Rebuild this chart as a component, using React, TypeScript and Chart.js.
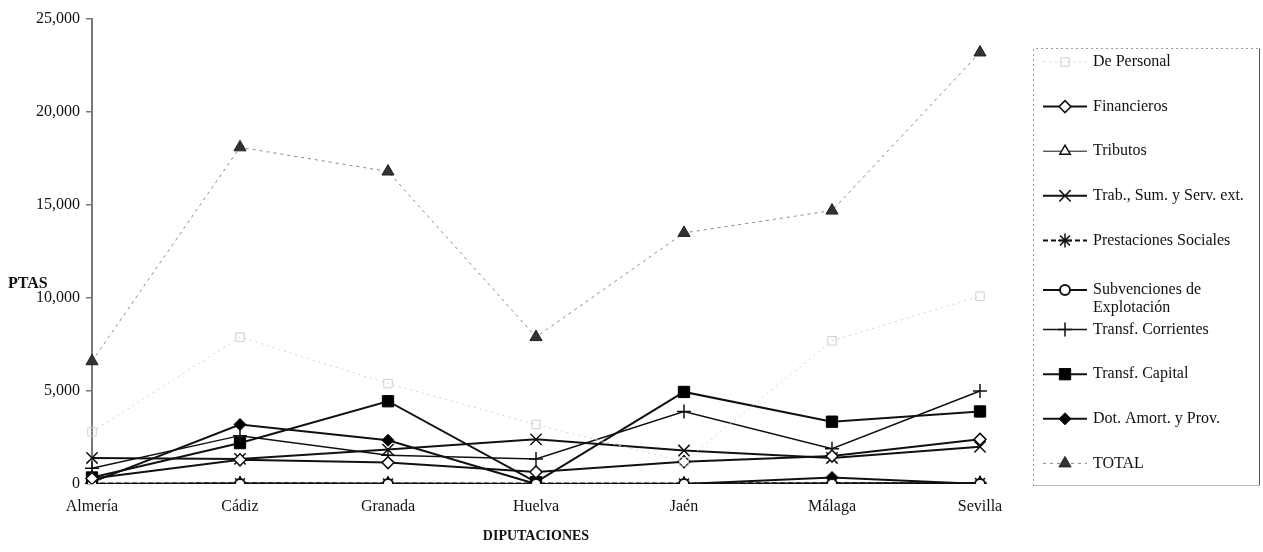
import React, { useEffect, useRef } from 'react';
import { Chart, registerables } from 'chart.js';
import { drawPoint } from 'chart.js/helpers';

Chart.register(...registerables);

const CATEGORIES = ['Almería', 'Cádiz', 'Granada', 'Huelva', 'Jaén', 'Málaga', 'Sevilla'];

const DE_PERSONAL = [2800, 7900, 5400, 3200, 1200, 7700, 10100];
const FINANCIEROS = [300, 1300, 1150, 650, 1200, 1500, 2400];
const TRIBUTOS = [30, 60, 50, 30, 40, 60, 80];
const TRAB_SUM_SERV = [1400, 1350, 1850, 2400, 1800, 1400, 2000];
const PRESTACIONES = [20, 40, 30, 20, 30, 40, 50];
const SUBVENCIONES = [0, 0, 0, 0, 0, 0, 0];
const TRANSF_CORRIENTES = [850, 2600, 1550, 1350, 3900, 1900, 5000];
const TRANSF_CAPITAL = [350, 2200, 4450, 100, 4950, 3350, 3900];
const DOT_AMORT = [100, 3200, 2350, 0, 0, 350, 0];
const TOTAL = [6600, 18100, 16800, 7900, 13500, 14700, 23200];

const Y_MIN = 0;
const Y_MAX = 25000;
const Y_STEP = 5000;
const X_TITLE = 'DIPUTACIONES';
const Y_TITLE = 'PTAS';

const FONT = '"Liberation Serif", "Times New Roman", serif';

const overlayPlugin = {
  id: 'overlay',
  afterDraw(chart: any) {
    const ctx = chart.ctx;
    const area = chart.chartArea;
    const yScale = chart.scales.y;
    ctx.save();

    // Y title (horizontal)
    ctx.font = `bold 16px ${FONT}`;
    ctx.fillStyle = '#111';
    ctx.textAlign = 'left';
    ctx.textBaseline = 'middle';
    ctx.fillText(Y_TITLE, area.left - 84, yScale.getPixelForValue(10000) - 14);

    // Legend box
    const left = area.right + 53;
    const top = area.top + 29;
    const right = chart.width - 3;
    const bottom = area.bottom + 2;
    ctx.lineWidth = 1;
    ctx.strokeStyle = '#9a9a9a';
    ctx.setLineDash([2, 3]);
    ctx.beginPath();
    ctx.moveTo(left + 0.5, bottom);
    ctx.lineTo(left + 0.5, top + 0.5);
    ctx.lineTo(right - 0.5, top + 0.5);
    ctx.stroke();
    ctx.setLineDash([]);
    ctx.strokeStyle = '#555';
    ctx.beginPath();
    ctx.moveTo(right - 0.5, top + 0.5);
    ctx.lineTo(right - 0.5, bottom - 0.5);
    ctx.stroke();
    ctx.strokeStyle = '#bbb';
    ctx.beginPath();
    ctx.moveTo(right - 0.5, bottom - 0.5);
    ctx.lineTo(left + 0.5, bottom - 0.5);
    ctx.stroke();

    const textX = left + 60;
    const maxW = right - textX - 4;
    ctx.font = `16px ${FONT}`;
    chart.data.datasets.forEach((ds: any, i: number) => {
      const yc = top + 14 + i * 44.6;
      const words = String(ds.label).split(' ');
      const lines: string[] = [];
      let cur = '';
      words.forEach((w) => {
        const t = cur ? cur + ' ' + w : w;
        if (ctx.measureText(t).width > maxW && cur) {
          lines.push(cur);
          cur = w;
        } else cur = t;
      });
      if (cur) lines.push(cur);
      const y0 = lines.length > 1 ? yc + 5 : yc;
      ctx.save();
      ctx.strokeStyle = ds.borderColor;
      ctx.lineWidth = ds.borderWidth;
      ctx.setLineDash(ds.borderDash || []);
      ctx.beginPath();
      ctx.moveTo(left + 10, y0);
      ctx.lineTo(left + 54, y0);
      ctx.stroke();
      ctx.setLineDash([]);
      ctx.fillStyle = ds.pointBackgroundColor;
      ctx.strokeStyle = ds.pointBorderColor;
      ctx.lineWidth = ds.pointBorderWidth;
      drawPoint(ctx, { pointStyle: ds.pointStyle, rotation: 0, radius: ds.pointRadius, borderWidth: ds.pointBorderWidth }, left + 32, y0);
      ctx.restore();
      ctx.fillStyle = '#111';
      ctx.textAlign = 'left';
      ctx.textBaseline = 'middle';
      lines.forEach((ln, k) => ctx.fillText(ln, textX, y0 + k * 18));
    });
    ctx.restore();
  },
};

function series(label: string, data: number[], s: any) {
  return {
    label,
    data,
    tension: 0,
    fill: false,
    pointHoverRadius: s.pointRadius,
    ...s,
  };
}

export default function App() {
  const ref = useRef<HTMLCanvasElement>(null);
  useEffect(() => {
    if (!ref.current) return;
    const chart = new Chart(ref.current, {
      type: 'line',
      data: {
        labels: CATEGORIES,
        datasets: [
          series('De Personal', DE_PERSONAL, { borderColor: '#d2d2d2', borderWidth: 1, borderDash: [2, 4], pointStyle: 'rect', pointRadius: 6, pointBorderWidth: 1, pointBackgroundColor: 'rgba(255,255,255,0)', pointBorderColor: '#cfcfcf' }),
          series('Financieros', FINANCIEROS, { borderColor: '#111', borderWidth: 2, pointStyle: 'rectRot', pointRadius: 6, pointBorderWidth: 1.5, pointBackgroundColor: '#fff', pointBorderColor: '#111' }),
          series('Tributos', TRIBUTOS, { borderColor: '#111', borderWidth: 1, pointStyle: 'triangle', pointRadius: 6, pointBorderWidth: 1.5, pointBackgroundColor: '#fff', pointBorderColor: '#111', order: 20 }),
          series('Trab., Sum. y Serv. ext.', TRAB_SUM_SERV, { borderColor: '#111', borderWidth: 2, pointStyle: 'crossRot', pointRadius: 8, pointBorderWidth: 1.5, pointBackgroundColor: '#111', pointBorderColor: '#111' }),
          series('Prestaciones Sociales', PRESTACIONES, { borderColor: '#111', borderWidth: 2, borderDash: [5, 3], pointStyle: 'star', pointRadius: 7, pointBorderWidth: 1.5, pointBackgroundColor: '#111', pointBorderColor: '#111', order: 20 }),
          series('Subvenciones de Explotación', SUBVENCIONES, { borderColor: '#111', borderWidth: 2, pointStyle: 'circle', pointRadius: 5, pointBorderWidth: 2, pointBackgroundColor: '#fff', pointBorderColor: '#111' }),
          series('Transf. Corrientes', TRANSF_CORRIENTES, { borderColor: '#111', borderWidth: 1.5, pointStyle: 'cross', pointRadius: 7, pointBorderWidth: 1.5, pointBackgroundColor: '#111', pointBorderColor: '#111' }),
          series('Transf. Capital', TRANSF_CAPITAL, { borderColor: '#111', borderWidth: 2, pointStyle: 'rect', pointRadius: 8, pointBorderWidth: 1, pointBackgroundColor: '#000', pointBorderColor: '#000' }),
          series('Dot. Amort. y Prov.', DOT_AMORT, { borderColor: '#111', borderWidth: 2, pointStyle: 'rectRot', pointRadius: 6, pointBorderWidth: 1, pointBackgroundColor: '#000', pointBorderColor: '#000' }),
          series('TOTAL', TOTAL, { borderColor: '#8a8a8a', borderWidth: 1, borderDash: [3, 4], pointStyle: 'triangle', pointRadius: 7, pointBorderWidth: 1, pointBackgroundColor: '#333', pointBorderColor: '#222' }),
        ],
      },
      options: {
        responsive: false,
        animation: false,
        events: [],
        layout: { padding: { left: 0, top: 19, right: 283, bottom: 0 } },
        plugins: { legend: { display: false }, tooltip: { enabled: false }, title: { display: false } },
        scales: {
          x: {
            type: 'category',
            offset: false,
            grid: { display: false, drawTicks: false },
            border: { display: false },
            ticks: { color: '#111', font: { family: FONT, size: 16 }, padding: 13, maxRotation: 0, autoSkip: false },
            title: { display: true, text: X_TITLE, color: '#111', font: { family: FONT, size: 14, weight: 'bold' }, padding: { top: 0, bottom: 7 } },
            afterFit: (s: any) => { s.height = 68; },
          },
          y: {
            min: Y_MIN,
            max: Y_MAX,
            ticks: {
              stepSize: Y_STEP,
              color: '#111',
              font: { family: FONT, size: 16 },
              padding: 6,
              callback: (v: any) => Number(v).toLocaleString('en-US'),
            },
            grid: { display: true, drawOnChartArea: false, drawTicks: true, tickLength: 6, color: '#7a7a7a', lineWidth: 1.5 },
            border: { display: true, color: '#7a7a7a', width: 2 },
            afterFit: (s: any) => { s.width = 92; },
          },
        },
      } as any,
      plugins: [overlayPlugin],
    });
    return () => chart.destroy();
  }, []);
  return (
    <div style={{ position: 'absolute', left: 0, top: 0, width: 1263, height: 552, background: '#fff' }}>
      <canvas ref={ref} width={1263} height={552} style={{ display: 'block' }} />
    </div>
  );
}
